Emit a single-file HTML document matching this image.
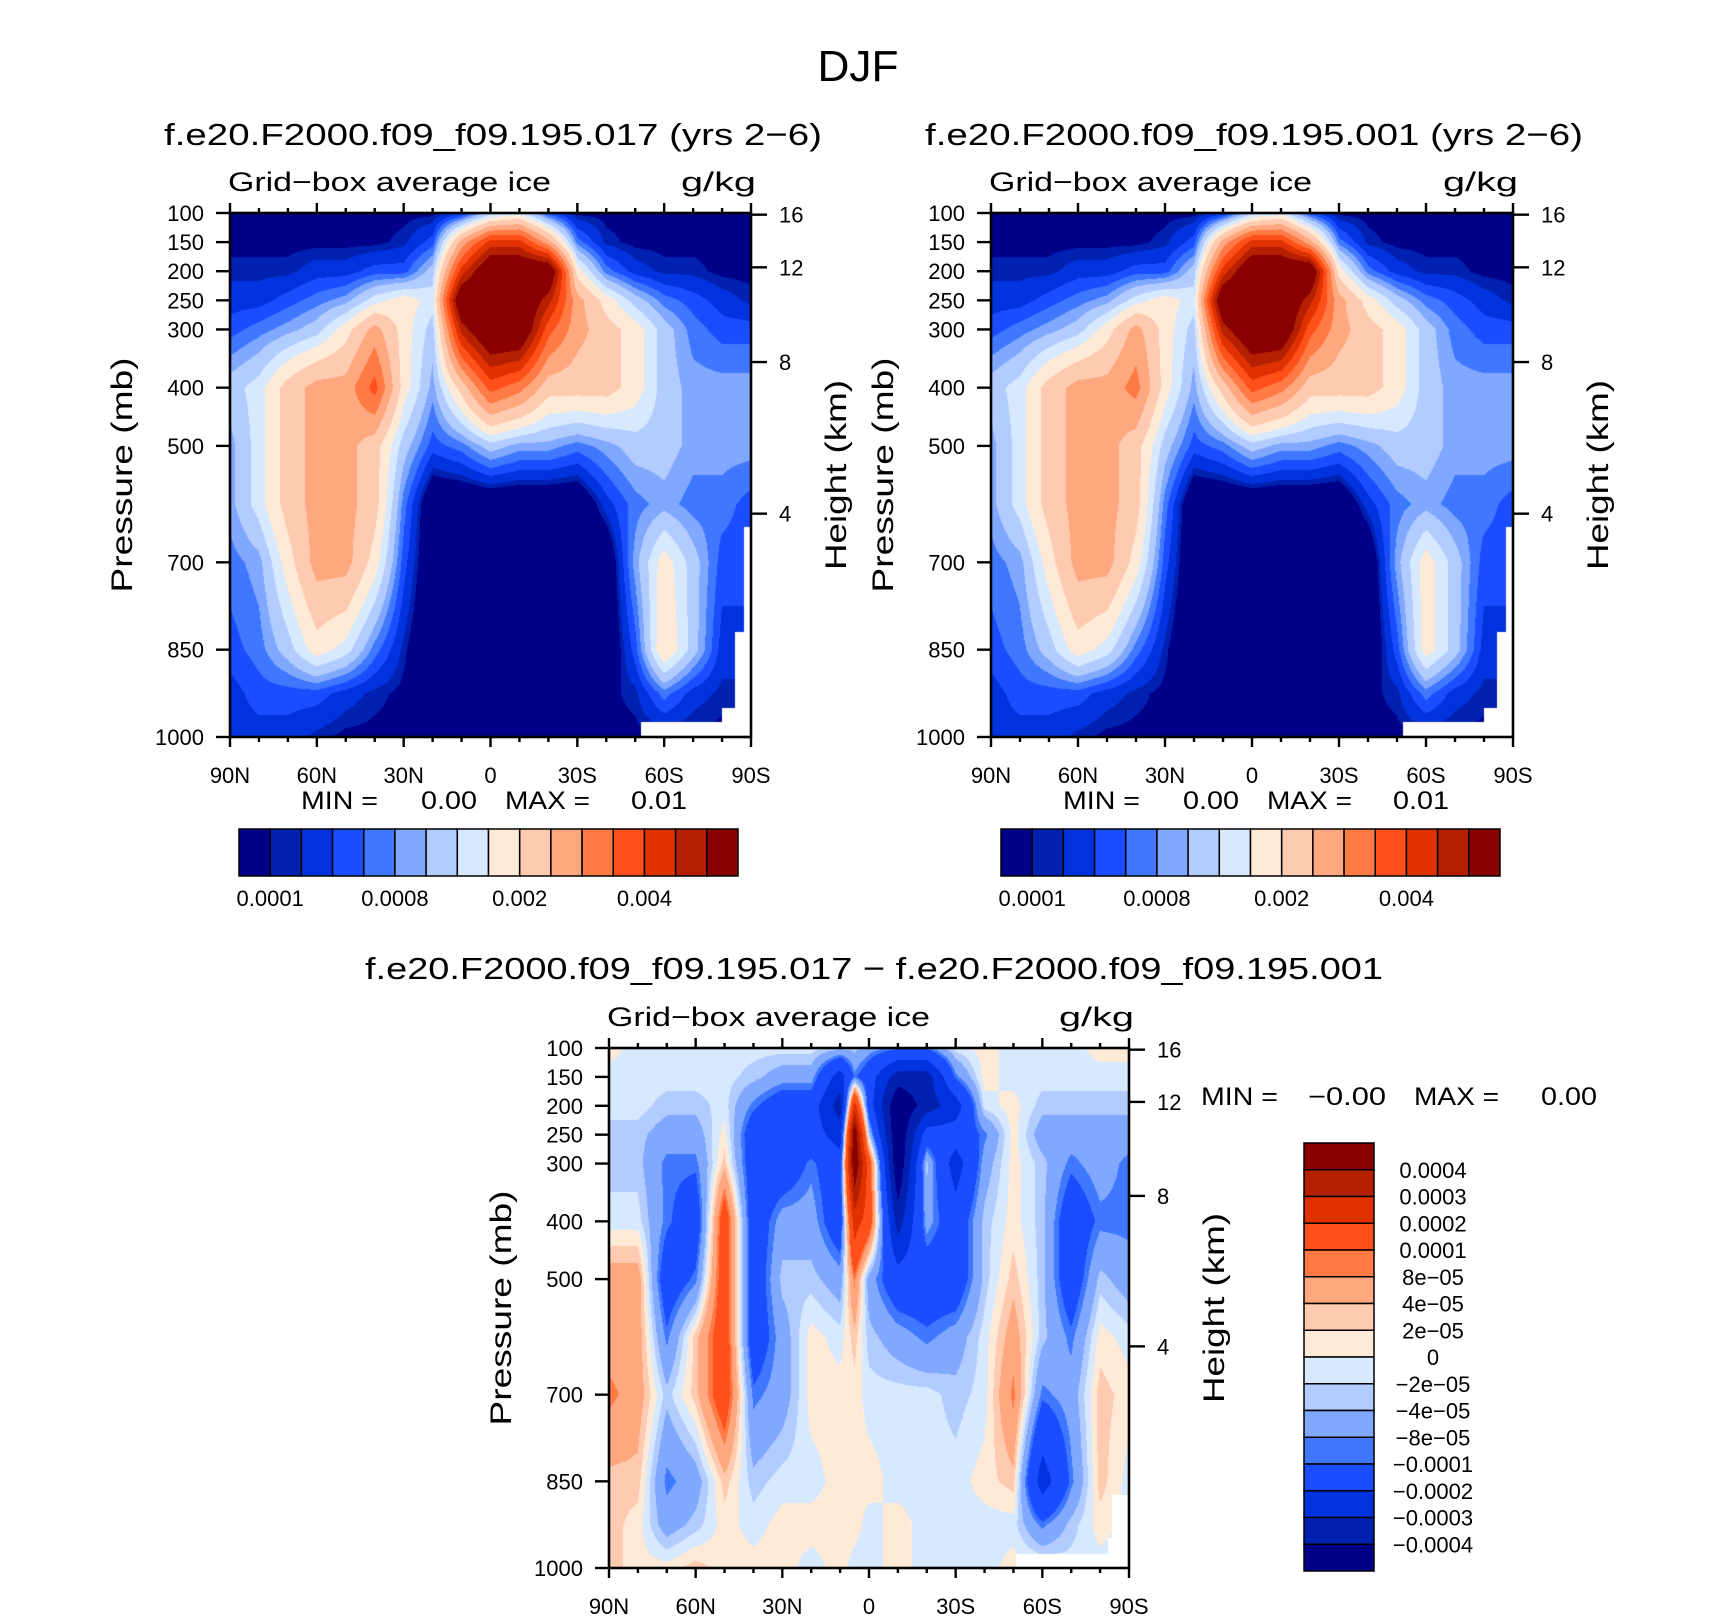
<!DOCTYPE html>
<html><head><meta charset="utf-8">
<style>
html,body{margin:0;padding:0;background:#fff;}
#wrap{position:relative;width:1710px;height:1616px;overflow:hidden;background:#fff;}
canvas{position:absolute;}
svg{position:absolute;left:0;top:0;}
text{font-family:"Liberation Sans",sans-serif;fill:#000;}
</style></head>
<body>
<div id="wrap">
<canvas id="c1"></canvas>
<canvas id="c2"></canvas>
<canvas id="c3"></canvas>
<svg id="svg" width="1710" height="1616"></svg>
</div>
<script>
// ---------- data ----------
const pressures = [100,150,200,250,300,400,500,600,700,850,925,1000];
const latsTop = [90,80,70,60,50,40,30,20,10,0,-10,-20,-30,-40,-50,-60,-70,-80,-90];
const latsDiff = [90,80,70,60,50,40,30,20,10,5,0,-10,-20,-30,-40,-50,-60,-70,-80,-90];
// units: 1e-4 g/kg
const iceLevels = [1,2,4,6,8,10,13,16,20,25,30,35,40,45,50];
const iceLevelLabels = ["0.0001","0.0008","0.002","0.004"];
const iceLabelIdx = [0,4,8,12];
const ice017 = [
[.5,.5,.5,.5,.5,.5,.5,.5,3,11.5,14.5,5,.5,.5,.5,.5,.5,.5,.5],
[.5,.5,.5,.5,.5,.5,1.5,5,27,42,42,27,7,1.5,.5,.5,.5,.5,.5],
[1.5,1.5,1.5,3,3,5,5,11.5,42,60,60,60,18,7,3,1.5,1.5,.5,.5],
[3,3,5,7,9,14.5,18,14.5,60,60,60,47,27,18,11.5,7,5,3,1.5],
[5,7,9,11.5,18,27,18,11.5,47,60,60,37,27,22,18,11.5,7,5,5],
[11.5,14.5,22,27,27,37,18,9,22,37,32,22,22,22,18,11.5,9,9,9],
[9,14.5,22,27,27,22,11.5,5,7,11.5,9,9,7,9,11.5,11.5,9,9,9],
[9,14.5,22,27,27,22,7,-3,-3,-3,-3,-3,-3,3,7,9,7,7,5],
[7,9,18,27,27,18,5,-3,-3,-3,-3,-3,-3,-3,9,18,11.5,5,5],
[5,7,11.5,18,14.5,7,1.5,-3,-3,-3,-3,-3,-3,-3,5,20,11.5,3,3],
[3,5,5,5,3,1.5,.5,.5,.5,.5,.5,.5,.5,.5,1.5,7,3,1.5,1.5],
[3,3,3,1.5,.5,.5,.5,.5,.5,.5,.5,.5,.5,.5,.5,.5,.5,.5,.5]];
const ice001 = [
[.5,.5,.5,.5,.5,.5,.5,.5,3,11.5,14.5,5,.5,.5,.5,.5,.5,.5,.5],
[.5,.5,.5,.5,.5,.5,1.5,5,27,42,42,27,7,1.5,.5,.5,.5,.5,.5],
[1.5,1.5,1.5,3,3,5,5,11.5,42,60,60,60,18,7,3,1.5,1.5,.5,.5],
[3,3,5,7,9,14.5,18,14.5,60,60,60,47,27,18,11.5,7,5,3,1.5],
[5,7,9,11.5,18,27,18,11.5,47,60,60,37,27,22,18,11.5,7,5,5],
[11.5,14.5,22,27,27,32,18,9,22,37,32,22,22,22,18,11.5,9,9,9],
[9,14.5,22,27,27,22,11.5,5,7,11.5,9,9,7,9,11.5,11.5,9,9,9],
[9,14.5,22,27,27,22,7,-3,-3,-3,-3,-3,-3,3,7,9,7,7,5],
[7,9,18,27,27,18,5,-3,-3,-3,-3,-3,-3,-3,9,18,11.5,5,5],
[5,7,11.5,18,14.5,7,1.5,-3,-3,-3,-3,-3,-3,-3,5,18,11.5,3,3],
[3,5,5,5,3,1.5,.5,.5,.5,.5,.5,.5,.5,.5,1.5,7,3,1.5,1.5],
[3,3,3,1.5,.5,.5,.5,.5,.5,.5,.5,.5,.5,.5,.5,.5,.5,.5,.5]];
// units: 1e-5 g/kg
const diffLevels = [-40,-30,-20,-10,-8,-4,-2,0,2,4,8,10,20,30,40];
const diffLevelLabels = ["-0.0004","-0.0003","-0.0002","-0.0001","-8e-05","-4e-05","-2e-05","0","2e-05","4e-05","8e-05","0.0001","0.0002","0.0003","0.0004"];
const iceDiff = [
[1,-1,-1,-1,-1,-1,-1,-1,-3,-3,-6,-9,-9,-1,1,-1,-1,-1,1,1],
[-1,-1,-1,-1,-1,-3,-6,-6,-25,-9,-15,-35,-35,-9,1,-1,-1,-1,-1,-1],
[-1,-1,-3,-3,-1,-9,-15,-15,-35,25,-15,-50,-35,-25,-1,1,-3,-3,-3,-3],
[-3,-3,-6,-6,1,-15,-15,-15,-25,50,-3,-50,-15,-15,-9,1,-6,-6,-6,-6],
[-3,-3,-9,-9,3,-15,-15,-9,-15,50,15,-50,-3,-25,-6,1,-3,-9,-6,-9],
[-1,-1,-9,-15,15,-15,-6,-6,-15,25,15,-35,-6,-15,-3,1,-3,-15,-9,-9],
[6,6,-15,-9,15,-15,-3,-3,-6,9,-6,-15,-15,-15,-3,3,-3,-15,-3,-6],
[6,6,-9,3,15,-15,-6,1,-1,3,-3,-6,-9,-6,-1,6,-3,-9,1,-1],
[9,6,-3,3,15,-9,-6,1,1,1,-1,-1,-1,-3,-1,9,-9,-6,3,1],
[3,3,-9,-6,3,-3,-1,-1,1,1,1,-1,-1,-1,1,3,-25,-9,3,-1],
[3,1,-6,-3,1,-1,1,1,1,1,-1,1,-1,-1,-1,-1,-9,-3,1,-1],
[3,1,1,3,1,1,1,-1,1,-1,-1,1,-1,-1,-1,1,1,-1,-1,-1]];
// missing data regions: [latMax, pressureMin]
const missingTop = [[-52,975],[-80,950],[-84.5,820],[-87.5,640]];
const missingDiff = [[-51,975],[-82.7,948],[-84,873]];
const pressureTicks = [100,150,200,250,300,400,500,700,850,1000];
const heightTicks = [16,12,8,4];
const latTicks = [90,60,30,0,-30,-60,-90];
const latTickLabels = ["90N","60N","30N","0","30S","60S","90S"];
const colors = ["#000088","#0021b0","#0032dd","#1a4dff","#3f78ff","#80a8ff","#b3ccff","#d6e9ff","#ffead7","#ffcbb0","#ffa880","#ff7a45","#ff5019","#e03200","#b52000","#8a0000"];

// ---------- helpers ----------
const NS="http://www.w3.org/2000/svg";
const svg=document.getElementById('svg');
function el(tag,attrs,parent){const e=document.createElementNS(NS,tag);for(const k in attrs)e.setAttribute(k,attrs[k]);(parent||svg).appendChild(e);return e;}
function txt(s,x,y,size,anchor,len,name,rot){
  const t=el('text',{x:x,y:y,'font-size':size,'text-anchor':anchor||'start'});
  if(len){t.setAttribute('textLength',len);t.setAttribute('lengthAdjust','spacingAndGlyphs');}
  if(rot)t.setAttribute('transform','rotate(-90 '+x+' '+y+')');
  t.textContent=s.replace(/-/g,'\u2212');
  
  
  return t;
}
function heightToP(zkm){const z=zkm*1000;
  if(z<=11000)return 1013.25*Math.pow(1-2.25577e-5*z,5.25588);
  return 226.32*Math.exp(-(z-11000)/6341.6);}
function interp(arr,v){
  const dec=arr[0]>arr[arr.length-1];
  for(let i=0;i<arr.length-1;i++){
    const a=arr[i],b=arr[i+1];
    if(dec? (v<=a&&v>=b):(v>=a&&v<=b)){return [i,(v-a)/(b-a)];}
  }
  return v===arr[0]?[0,0]:[arr.length-2,1];
}
function drawField(canvasId,P,lats,field,levels,missing){
  const c=document.getElementById(canvasId);
  c.width=P.w;c.height=P.h;c.style.left=P.x+'px';c.style.top=P.y+'px';
  const ctx=c.getContext('2d');const img=ctx.createImageData(P.w,P.h);
  const rgb=colors.map(h=>[parseInt(h.substr(1,2),16),parseInt(h.substr(3,2),16),parseInt(h.substr(5,2),16)]);
  for(let py=0;py<P.h;py++){
    const p=100+900*(py+0.5)/P.h;const [pi,pf]=interp(pressures,p);
    for(let px=0;px<P.w;px++){
      const lat=90-180*(px+0.5)/P.w;const [li,lf]=interp(lats,lat);
      let miss=false;for(const m of missing){if(lat<m[0]&&p>m[1])miss=true;}
      const o=(py*P.w+px)*4;
      if(miss){img.data[o]=255;img.data[o+1]=255;img.data[o+2]=255;img.data[o+3]=255;continue;}
      const v=(1-pf)*((1-lf)*field[pi][li]+lf*field[pi][li+1])+pf*((1-lf)*field[pi+1][li]+lf*field[pi+1][li+1]);
      let k=0;while(k<levels.length&&v>=levels[k])k++;
      const col=rgb[k];img.data[o]=col[0];img.data[o+1]=col[1];img.data[o+2]=col[2];img.data[o+3]=255;
    }
  }
  ctx.putImageData(img,0,0);
}
function xOf(P,lat){return P.x+P.w*(90-lat)/180;}
function yOf(P,p){return P.y+P.h*(p-100)/900;}
function drawAxes(P,prefix){
  const g=el('g',{});
  
  
  el('rect',{x:P.x,y:P.y,width:P.w,height:P.h,fill:'none',stroke:'#000','stroke-width':2.6},g);
  for(let lat=90;lat>=-90;lat-=10){
    const x=xOf(P,lat);const major=(lat%30===0);const L=major?10:5;
    el('line',{x1:x,y1:P.y,x2:x,y2:P.y-L,stroke:'#000','stroke-width':2.4},g);
    el('line',{x1:x,y1:P.y+P.h,x2:x,y2:P.y+P.h+L,stroke:'#000','stroke-width':2.4},g);
  }
  latTicks.forEach((lat,i)=>{txt(latTickLabels[i],xOf(P,lat),P.y+P.h+46,22,'middle',null,prefix+'-x-tick-label');});
  pressureTicks.forEach(p=>{const y=yOf(P,p);
    el('line',{x1:P.x,y1:y,x2:P.x-14,y2:y,stroke:'#000','stroke-width':2.4},g);
    txt(String(p),P.x-26,y+8,22,'end',null,prefix+'-y-tick-label');});
  heightTicks.forEach(z=>{const y=yOf(P,heightToP(z));
    el('line',{x1:P.x+P.w,y1:y,x2:P.x+P.w+16,y2:y,stroke:'#000','stroke-width':2.4},g);
    txt(String(z),P.x+P.w+28,y+8,22,'start',null,prefix+'-height-tick-label');});
  txt('Grid-box average ice',P.x-2,P.y-22,27,'start',323,prefix+'-variable-label');
  txt('g/kg',P.x+P.w+5,P.y-22,27,'end',75,prefix+'-units-label');
  txt('Pressure (mb)',P.x-98,P.y+P.h/2,30,'middle',235,prefix+'-y-axis-title',true);
  txt('Height (km)',P.x+P.w+95,P.y+P.h/2,30,'middle',190,prefix+'-height-axis-title',true);
}
function hColorbar(x,y,w,h,prefix){
  const bw=w/colors.length;
  colors.forEach((c,i)=>{const r=el('rect',{x:x+i*bw,y:y,width:bw,height:h,fill:c,stroke:'#000','stroke-width':1.5});
    
    });
  iceLabelIdx.forEach((k,i)=>{txt(iceLevelLabels[i],x+(k+1)*bw,y+77,22,'middle',null,prefix+'-colorbar-label');});
}

// ---------- layout ----------
const P1={x:230,y:213,w:521,h:524};
const P2={x:991,y:213,w:522,h:524};
const P3={x:609,y:1048,w:520,h:520};
drawField('c1',P1,latsTop,ice017,iceLevels,missingTop);
drawField('c2',P2,latsTop,ice001,iceLevels,missingTop);
drawField('c3',P3,latsDiff,iceDiff,diffLevels,missingDiff);
drawAxes(P1,'panel-017');
drawAxes(P2,'panel-001');
drawAxes(P3,'panel-diff');

txt('DJF',858,81,44,'middle',81,'figure-title');
txt('f.e20.F2000.f09_f09.195.017 (yrs 2-6)',493,145,31,'middle',658,'panel-017-title');
txt('f.e20.F2000.f09_f09.195.001 (yrs 2-6)',1254,145,31,'middle',658,'panel-001-title');
txt('f.e20.F2000.f09_f09.195.017 - f.e20.F2000.f09_f09.195.001',874,979,31,'middle',1018,'panel-diff-title');

[[0,'0.00','0.01','panel-017'],[762,'0.00','0.01','panel-001']].forEach(a=>{
  const dx=a[0];
  txt('MIN =',301+dx,809,25,'start',77,a[3]+'-min-label');
  txt(a[1],449+dx,809,25,'middle',56,a[3]+'-min-value');
  txt('MAX =',505+dx,809,25,'start',85,a[3]+'-max-label');
  txt(a[2],659+dx,809,25,'middle',56,a[3]+'-max-value');
});
txt('MIN =',1201,1105,25,'start',77,'panel-diff-min-label');
txt('-0.00',1347,1105,25,'middle',78,'panel-diff-min-value');
txt('MAX =',1414,1105,25,'start',85,'panel-diff-max-label');
txt('0.00',1569,1105,25,'middle',56,'panel-diff-max-value');

hColorbar(239,829,499,47,'panel-017');
hColorbar(1001,829,499,47,'panel-001');

(function(){
  const x=1304,y=1143,w=70,h=428;const bh=h/colors.length;
  for(let i=0;i<colors.length;i++){
    const r=el('rect',{x:x,y:y+i*bh,width:w,height:bh,fill:colors[colors.length-1-i],stroke:'#000','stroke-width':1.5});
    
    
  }
  for(let j=0;j<diffLevelLabels.length;j++){
    const lab=diffLevelLabels[diffLevelLabels.length-1-j];
    txt(lab,1433,y+(j+1)*bh+8,22,'middle',null,'panel-diff-colorbar-label');
  }
})();
</script>
</body></html>
